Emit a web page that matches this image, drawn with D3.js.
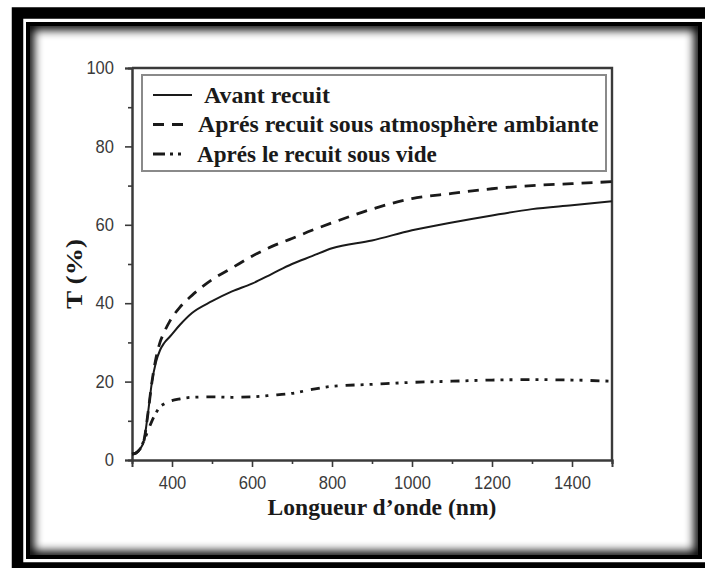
<!DOCTYPE html>
<html>
<head>
<meta charset="utf-8">
<script src="https://cdn.jsdelivr.net/npm/d3@7"></script>
<style>
  body { margin: 0; background: #fff; }
  svg { display: block; }
</style>
</head>
<body>
<svg id="chart" width="705" height="568"></svg>
<script>
// Transmittance spectra of the film (T in %, wavelength in nm)
const wavelength     = [300, 310, 320, 330, 340, 350, 360, 370, 380, 395, 420, 450, 500, 550, 600, 650, 700, 750, 800, 900, 1000, 1100, 1200, 1300, 1400, 1500];
const avantRecuit    = [1.5, 1.8, 2.8, 5.0, 12.0, 20.0, 25.0, 28.0, 29.8, 31.5, 34.5, 37.5, 40.5, 43.0, 45.0, 47.5, 50.0, 52.0, 54.0, 56.0, 58.6, 60.6, 62.4, 64.0, 65.0, 66.0];
const recuitAmbiante = [1.5, 1.8, 2.8, 5.0, 12.0, 20.0, 26.0, 30.0, 32.5, 35.5, 39.0, 42.0, 46.0, 49.0, 52.0, 54.5, 56.5, 58.6, 60.5, 64.0, 66.7, 68.0, 69.2, 70.0, 70.5, 71.0];
const recuitVide     = [1.5, 1.8, 2.8, 5.0, 7.5, 10.0, 12.0, 13.6, 14.3, 15.0, 15.6, 16.0, 16.1, 16.0, 16.1, 16.5, 17.0, 18.0, 18.8, 19.3, 19.8, 20.1, 20.4, 20.5, 20.4, 20.1];

const seriesNames = ["Avant recuit", "Aprés recuit sous atmosphère ambiante", "Aprés le recuit sous vide"];
const xTickValues = [400, 600, 800, 1000, 1200, 1400];
const xMinorTicks = [500, 700, 900, 1100, 1300, 1500];
const yTickValues = [0, 20, 40, 60, 80, 100];
const yMinorTicks = [10, 30, 50, 70, 90];
const xTitle = "Longueur d\u2019onde (nm)";
const yTitle = "T (%)";

const serifFont = "'Liberation Serif', Tinos, 'Times New Roman', 'DejaVu Serif', serif";
const sansFont = "'Liberation Sans', Arimo, Arial, sans-serif";

const svg = d3.select("#chart");
const defs = svg.append("defs");

// Place a text at (tx, ty) with an optional rotation and squeeze it
// horizontally (along its baseline) so that its width equals `width`.
function placeFitted(sel, tx, ty, width, rotate = 0) {
  sel.attr("x", 0).attr("y", 0);
  const w = sel.node().getComputedTextLength();
  const sx = w > 0 ? width / w : 1;
  sel.attr("transform", `translate(${tx},${ty}) rotate(${rotate}) scale(${sx.toFixed(4)},1)`);
  return sel;
}

// ---- picture frame: thick outer band + inner panel with inset shadow ----
svg.append("rect")
  .attr("x", 17.5).attr("y", 13).attr("width", 710).attr("height", 555)
  .attr("fill", "none").attr("stroke", "#000").attr("stroke-width", 11.5);

const panel = { x: 28, y: 24, w: 672, h: 533 };
defs.append("clipPath").attr("id", "panelClip")
  .append("rect").attr("x", panel.x).attr("y", panel.y).attr("width", panel.w).attr("height", panel.h);
defs.append("filter").attr("id", "soften")
  .attr("x", "-20%").attr("y", "-20%").attr("width", "140%").attr("height", "140%")
  .append("feGaussianBlur").attr("stdDeviation", 5);

svg.append("rect")
  .attr("x", panel.x).attr("y", panel.y).attr("width", panel.w).attr("height", panel.h)
  .attr("fill", "#fff");
svg.append("g").attr("clip-path", "url(#panelClip)")
  .append("rect")
  .attr("x", panel.x).attr("y", panel.y).attr("width", panel.w).attr("height", panel.h)
  .attr("fill", "none").attr("stroke", "#000").attr("stroke-width", 12)
  .attr("filter", "url(#soften)");
svg.append("rect")
  .attr("x", panel.x).attr("y", panel.y).attr("width", panel.w).attr("height", panel.h)
  .attr("fill", "none").attr("stroke", "#000").attr("stroke-width", 4);

// ---- scales ----
const plot = { left: 132, right: 612, top: 68, bottom: 460 };
const x = d3.scaleLinear().domain([300, 1500]).range([plot.left, plot.right]);
const y = d3.scaleLinear().domain([0, 100]).range([plot.bottom, plot.top]);

const axisColor = "#3a3a3a";

function styleAxis(g) {
  g.select(".domain").attr("stroke", axisColor).attr("stroke-width", 2);
  g.selectAll(".tick line").attr("stroke", axisColor).attr("stroke-width", 1.6);
  g.selectAll(".tick text")
    .attr("fill", "#3a3a3a")
    .style("font-family", sansFont)
    .style("font-size", "18px");
}

// minor ticks
svg.append("g").attr("transform", `translate(0,${plot.bottom})`)
  .call(d3.axisBottom(x).tickValues(xMinorTicks).tickSize(4).tickFormat(""))
  .call(styleAxis);
svg.append("g").attr("transform", `translate(${plot.left},0)`)
  .call(d3.axisLeft(y).tickValues(yMinorTicks).tickSize(4).tickFormat(""))
  .call(styleAxis);

// major ticks
const xAxisG = svg.append("g").attr("transform", `translate(0,${plot.bottom})`)
  .call(d3.axisBottom(x).tickValues(xTickValues).tickSize(7).tickPadding(9).tickFormat(d3.format("d")))
  .call(styleAxis);
const yAxisG = svg.append("g").attr("transform", `translate(${plot.left},0)`)
  .call(d3.axisLeft(y).tickValues(yTickValues).tickSize(7).tickPadding(11).tickFormat(d3.format("d")))
  .call(styleAxis);

// tick numbers are slightly narrow
xAxisG.selectAll(".tick text").each(function () {
  const t = d3.select(this);
  t.attr("transform", `translate(0,${t.attr("y")}) scale(0.92,1) translate(0,${-t.attr("y")})`);
});
yAxisG.selectAll(".tick text").each(function () {
  const t = d3.select(this);
  const xx = +t.attr("x");
  t.attr("transform", `translate(${xx},0) scale(0.92,1) translate(${-xx},0)`);
});

// top and right borders of the plot box
svg.append("path")
  .attr("d", `M${plot.left},${plot.top}H${plot.right}V${plot.bottom}`)
  .attr("fill", "none").attr("stroke", axisColor).attr("stroke-width", 2.4);

// ---- curves ----
const styles = [
  { dash: null,              width: 2.0 },
  { dash: "11,8",            width: 2.8 },
  { dash: "9,6,3,6,3,8",     width: 2.8 }
];
const seriesValues = [avantRecuit, recuitAmbiante, recuitVide];

const line = d3.line()
  .x(d => x(d[0]))
  .y(d => y(d[1]))
  .curve(d3.curveMonotoneX);

seriesValues.forEach((vals, i) => {
  const pts = wavelength.map((w, k) => [w, vals[k]]);
  svg.append("path")
    .datum(pts)
    .attr("d", line)
    .attr("fill", "none")
    .attr("stroke", "#1a1a1a")
    .attr("stroke-width", styles[i].width)
    .attr("stroke-dasharray", styles[i].dash);
});

// ---- legend ----
const legend = svg.append("g");
legend.append("rect")
  .attr("x", 142).attr("y", 75).attr("width", 464).attr("height", 96)
  .attr("fill", "#fff").attr("stroke", "#8a8a8a").attr("stroke-width", 2);

const legendSamples = [
  { x1: 153, x2: 192, dash: null },
  { x1: 153, x2: 185, dash: "11,8" },
  { x1: 153, x2: 186, dash: "12,5,3,5,3,5,3" }
];
const legendTextX = [204, 198, 197];
const legendTextW = [126, 401, 240];
seriesNames.forEach((name, i) => {
  const ly = 95 + i * 29.5;
  legend.append("line")
    .attr("x1", legendSamples[i].x1).attr("x2", legendSamples[i].x2)
    .attr("y1", ly).attr("y2", ly)
    .attr("stroke", "#1a1a1a").attr("stroke-width", i === 0 ? 2 : 2.8)
    .attr("stroke-dasharray", legendSamples[i].dash);
  const t = legend.append("text")
    .attr("fill", "#1a1a1a")
    .style("font-family", serifFont)
    .style("font-weight", "bold")
    .style("font-size", "24px")
    .text(name);
  placeFitted(t, legendTextX[i], ly + 7.5, legendTextW[i]);
});

// ---- axis titles ----
const xt = svg.append("text")
  .attr("text-anchor", "middle")
  .attr("fill", "#1a1a1a")
  .style("font-family", serifFont)
  .style("font-weight", "bold")
  .style("font-size", "24px")
  .text(xTitle);
placeFitted(xt, 382, 515, 229);

const yt = svg.append("text")
  .attr("text-anchor", "middle")
  .attr("fill", "#1a1a1a")
  .style("font-family", serifFont)
  .style("font-weight", "bold")
  .style("font-size", "24px")
  .text(yTitle);
placeFitted(yt, 82, 274, 70, -90);
</script>
</body>
</html>
